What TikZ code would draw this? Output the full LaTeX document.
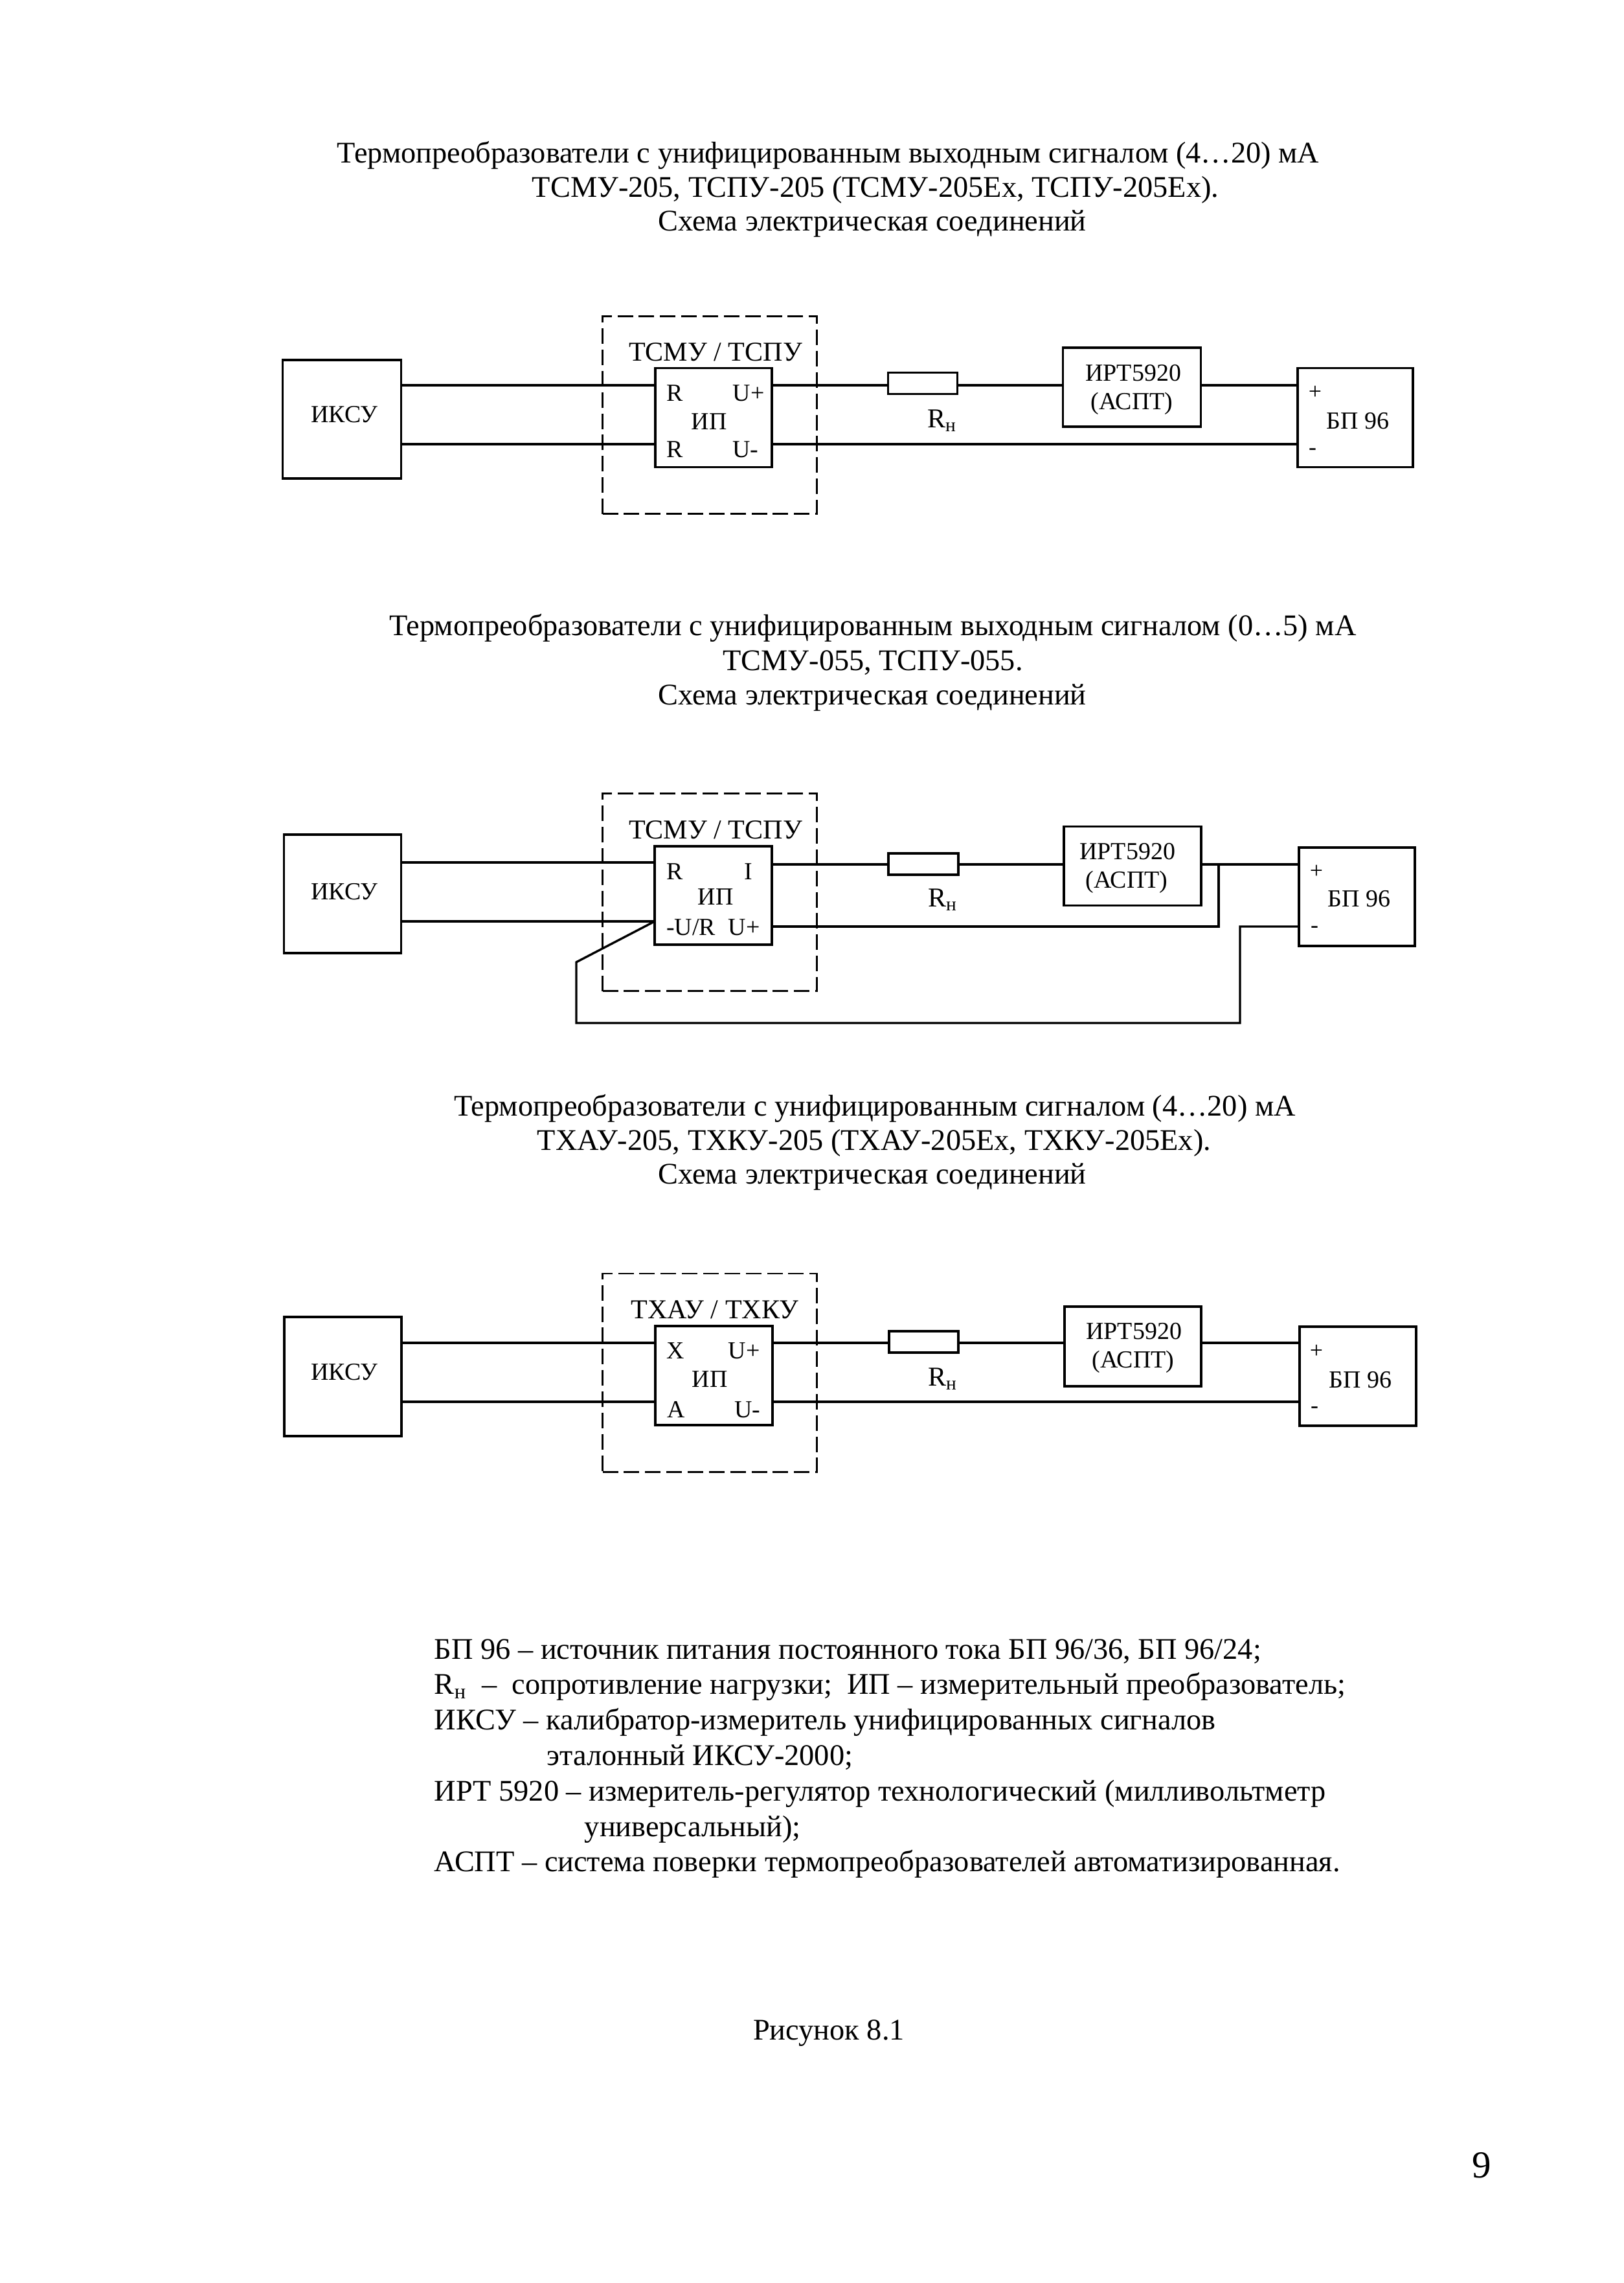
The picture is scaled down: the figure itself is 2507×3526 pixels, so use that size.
\documentclass[tikz,border=0pt]{standalone}
\usepackage{fontspec}
\setmainfont{Liberation Serif}
\def\px{0.2374pt}
\tikzset{
	block/.style 2 args={draw, line width=.8pt, inner sep=0, outer sep=0,
		minimum width=#1*\px, minimum height=#2*\px},
	frame/.style 2 args={draw, line width=.7pt, dash pattern=on 5.7pt off 2.1pt, inner sep=0, outer sep=0,
		minimum width=#1*\px, minimum height=#2*\px},
	wire/.style={line width=.8pt},
	head/.style={inner sep=0, font=\fontsize{11}{13}\selectfont},
	legend/.style={inner sep=0, anchor=west, font=\fontsize{11}{13}\selectfont},
	title/.style={inner sep=0, font=\fontsize{10}{12}\selectfont},
	label/.style={inner sep=0, font=\fontsize{9}{11}\selectfont},
	sign/.style={inner sep=0, font=\fontsize{8.5}{10}\selectfont}
}
\begin{document}
\begin{tikzpicture}[x=\px, y=-\px]
	\useasboundingbox (0,0) rectangle (2507,3526);

	% titles
	\node (t1a) [head] at (1279,240) {Термопреобразователи с унифицированным выходным сигналом (4…20) мА};
	\node (t1b) [head] at (1352,293) {ТСМУ-205, ТСПУ-205 (ТСМУ-205Ex, ТСПУ-205Ex).};
	\node (t1c) [head] at (1347,346) {Схема электрическая соединений};
	\node (t2a) [head] at (1348,970) {Термопреобразователи с унифицированным выходным сигналом (0…5) мА};
	\node (t2b) [head] at (1348,1024) {ТСМУ-055, ТСПУ-055.};
	\node (t2c) [head] at (1347,1078) {Схема электрическая соединений};
	\node (t3a) [head] at (1351,1712) {Термопреобразователи с унифицированным сигналом (4…20) мА};
	\node (t3b) [head] at (1350,1765) {ТХАУ-205, ТХКУ-205 (ТХАУ-205Ex, ТХКУ-205Ex).};
	\node (t3c) [head] at (1347,1818) {Схема электрическая соединений};

	% first scheme
	\coordinate (upA) at (0,595);
	\coordinate (lowA) at (0,686);
	\node (frameA) [frame={331}{305}] at (1096,641) {};
	\node (iksuA) [block={183}{183}] at (528,647.5) {};
	\node (ipA) [block={180}{153}] at (1102,645) {};
	\node (resA) [block={107}{33}] at (1425,592) {};
	\node (irtA) [block={213}{122}] at (1748,598) {};
	\node (bpA) [block={178}{153}] at (2093,645) {};
	\node [label] at (532,640) {ИКСУ};
	\node [title] at (1105,544) {ТСМУ / ТСПУ};
	\node [label] at (1042,607) {R};
	\node [label] at (1156,607) {U+};
	\node [label] at (1095,651) {ИП};
	\node [label] at (1042,694) {R};
	\node [label] at (1151,694) {U-};
	\node [title] at (1455,650) {R\textsubscript{н}};
	\node [label] at (1750,576) {ИРТ5920};
	\node [label] at (1748,623) {(АСПТ)};
	\node [sign] at (2031,606) {+};
	\node [sign] at (2027,698) {-};
	\node [label] at (2097,650) {БП 96};
	\draw [wire] (iksuA.east |- upA) -- (ipA.west |- upA);
	\draw [wire] (iksuA.east |- lowA) -- (ipA.west |- lowA);
	\draw [wire] (ipA.east |- upA) -- (resA.west |- upA);
	\draw [wire] (resA.east |- upA) -- (irtA.west |- upA);
	\draw [wire] (irtA.east |- upA) -- (bpA.west |- upA);
	\draw [wire] (ipA.east |- lowA) -- (bpA.west |- lowA);

	% second scheme
	\coordinate (upB) at (0,1332);
	\coordinate (lowB) at (0,1423);
	\coordinate (outB) at (0,1335);
	\coordinate (retB) at (0,1431);
	\coordinate (loopB) at (0,1580);
	\coordinate (tapB) at (1882,0);
	\coordinate (riseB) at (1915,0);
	\coordinate (kneeB) at (890,1486);
	\node (frameB) [frame={331}{305}] at (1096,1378) {};
	\node (iksuB) [block={181}{183}] at (529,1380.5) {};
	\node (ipB) [block={181}{152}] at (1101.5,1383) {};
	\node (resB) [block={108}{33}] at (1426,1334.5) {};
	\node (irtB) [block={212}{122}] at (1749,1337.5) {};
	\node (bpB) [block={179}{152}] at (2095.5,1385) {};
	\node [label] at (532,1377) {ИКСУ};
	\node [title] at (1105,1282) {ТСМУ / ТСПУ};
	\node [label] at (1042,1346) {R};
	\node [label] at (1156,1346) {I};
	\node [label] at (1105,1385) {ИП};
	\node [label] at (1067,1432) {-U/R};
	\node [label] at (1149,1432) {U+};
	\node [title] at (1456,1390) {R\textsubscript{н}};
	\node [label] at (1741,1315) {ИРТ5920};
	\node [label] at (1740,1362) {(АСПТ)};
	\node [sign] at (2033,1346) {+};
	\node [sign] at (2030,1436) {-};
	\node [label] at (2099,1388) {БП 96};
	\draw [wire] (iksuB.east |- upB) -- (ipB.west |- upB);
	\draw [wire] (iksuB.east |- lowB) -- (ipB.west |- lowB);
	\draw [wire] (ipB.east |- outB) -- (resB.west |- outB);
	\draw [wire] (resB.east |- outB) -- (irtB.west |- outB);
	\draw [wire] (irtB.east |- outB) -- (bpB.west |- outB);
	\draw [wire] (tapB |- outB) -- (tapB |- retB) -- (ipB.east |- retB);
	\draw [wire] (ipB.west |- lowB) -- (kneeB) -- (kneeB |- loopB) -- (riseB |- loopB) -- (riseB |- retB) -- (bpB.west |- retB);

	% third scheme
	\coordinate (upC) at (0,2074);
	\coordinate (lowC) at (0,2165);
	\node (frameC) [frame={331}{306}] at (1096,2120) {};
	\node (iksuC) [block={181}{184}] at (529.5,2126) {};
	\node (ipC) [block={181}{153}] at (1102.5,2124.5) {};
	\node (resC) [block={107}{33}] at (1426.5,2072.5) {};
	\node (irtC) [block={211}{123}] at (1749.5,2079.5) {};
	\node (bpC) [block={180}{153}] at (2097,2125.5) {};
	\node [label] at (532,2119) {ИКСУ};
	\node [title] at (1104,2023) {ТХАУ / ТХКУ};
	\node [label] at (1043,2086) {X};
	\node [label] at (1149,2086) {U+};
	\node [label] at (1096,2130) {ИП};
	\node [label] at (1044,2177) {A};
	\node [label] at (1154,2177) {U-};
	\node [title] at (1456,2130) {R\textsubscript{н}};
	\node [label] at (1751,2056) {ИРТ5920};
	\node [label] at (1750,2103) {(АСПТ)};
	\node [sign] at (2033,2087) {+};
	\node [sign] at (2030,2178) {-};
	\node [label] at (2101,2131) {БП 96};
	\draw [wire] (iksuC.east |- upC) -- (ipC.west |- upC);
	\draw [wire] (iksuC.east |- lowC) -- (ipC.west |- lowC);
	\draw [wire] (ipC.east |- upC) -- (resC.west |- upC);
	\draw [wire] (resC.east |- upC) -- (irtC.west |- upC);
	\draw [wire] (irtC.east |- upC) -- (bpC.west |- upC);
	\draw [wire] (ipC.east |- lowC) -- (bpC.west |- lowC);

	% legend
	\node (l1) [legend] at (670,2551) {БП 96 – источник питания постоянного тока БП 96/36, БП 96/24;};
	\node (l2) [legend] at (670,2605) {R\textsubscript{н} \ – \ сопротивление нагрузки; \ ИП – измерительный преобразователь;};
	\node (l3) [legend] at (670,2660) {ИКСУ – калибратор-измеритель унифицированных сигналов};
	\node (l4) [legend] at (844,2714) {эталонный ИКСУ-2000;};
	\node (l5) [legend] at (670,2770) {ИРТ 5920 – измеритель-регулятор технологический (милливольтметр};
	\node (l6) [legend] at (902,2825) {универсальный);};
	\node (l7) [legend] at (670,2879) {АСПТ – система поверки термопреобразователей автоматизированная.};
	\node (fig) [head] at (1280,3140) {Рисунок 8.1};
	\node (page) [inner sep=0, font=\fontsize{14}{16}\selectfont] at (2288,3344) {9};
\end{tikzpicture}
\end{document}
